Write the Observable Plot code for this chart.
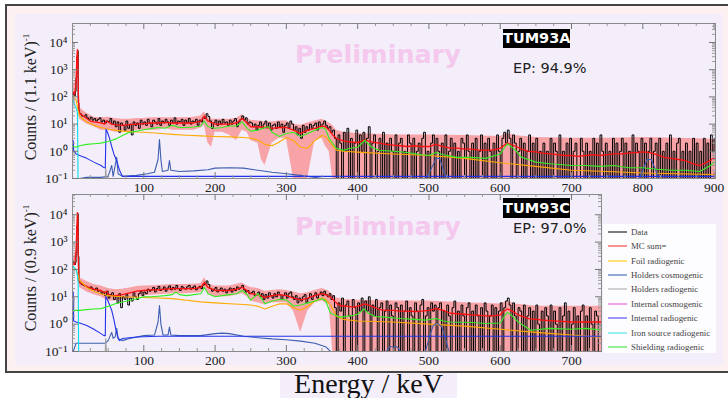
<!DOCTYPE html>
<html><head><meta charset="utf-8">
<script src="https://cdn.jsdelivr.net/npm/d3@7"></script>
<script src="https://cdn.jsdelivr.net/npm/@observablehq/plot@0.6"></script>
<style>
body{margin:0;width:728px;height:398px;position:relative;overflow:hidden;background:#fff;}
.abs{position:absolute;}
.ytitle{position:absolute;transform:translate(-50%,-50%) rotate(-90deg);white-space:nowrap;font-family:'Liberation Serif',serif;font-size:16px;color:#222;line-height:1;}
.ytitle sup{font-size:9px;vertical-align:7px;}
.prelim{position:absolute;width:300px;text-align:center;font-family:'DejaVu Sans',sans-serif;font-weight:bold;font-size:25.5px;line-height:1;color:#f5c8ee;}
.tag{position:absolute;background:#000;color:#fff;font-family:'DejaVu Sans',sans-serif;font-weight:bold;font-size:14.5px;text-align:center;}
.ep{position:absolute;font-family:'DejaVu Sans',sans-serif;font-size:14.5px;line-height:1;color:#222;white-space:nowrap;}
#legend{position:absolute;left:603px;top:224px;width:113px;height:129px;background:#fdfcfe;}
.lrow{position:absolute;left:0;height:14px;width:113px;}
.lrow span.sw{position:absolute;left:5px;top:6px;width:19px;height:2px;}
.lrow span.tx{position:absolute;left:28px;top:0;line-height:14px;font-family:'Liberation Serif',serif;font-size:8.8px;color:#444;white-space:nowrap;}
</style></head><body>
<div class="abs" style="left:5px;top:4px;width:800px;height:369px;border:2px solid #444;box-sizing:border-box;background:#fcf1f0;"></div>
<div class="abs" style="left:15px;top:14px;width:708px;height:351px;background:#f3eef9;"></div>
<div class="abs" style="left:280px;top:373px;width:177px;height:25px;background:#f3eef9;"></div>
<div id="top" class="abs" style="left:0;top:0;"></div>
<div id="bot" class="abs" style="left:0;top:190px;"></div>
<div class="prelim" style="left:228px;top:41.5px;">Preliminary</div>
<div class="prelim" style="left:228px;top:213.5px;">Preliminary</div>
<div class="tag" style="left:503px;top:29px;width:67px;height:19px;line-height:19px;">TUM93A</div>
<div class="tag" style="left:503px;top:198px;width:67px;height:20px;line-height:20px;">TUM93C</div>
<div class="ep" style="left:513px;top:61px;">EP: 94.9%</div>
<div class="ep" style="left:513px;top:220.5px;">EP: 97.0%</div>
<div class="ytitle" style="left:30px;top:97px;">Counts / (1.1 keV)<sup>-1</sup></div>
<div class="ytitle" style="left:30px;top:268px;">Counts / (0.9 keV)<sup>-1</sup></div>
<div id="legend"></div>
<div class="abs" style="left:280px;top:370px;width:177px;text-align:center;font-family:'Liberation Serif',serif;font-size:28px;line-height:1;color:#111;">Energy / keV</div>
<script>
// ---------- axes / labels ----------
const X_TICKS_A = [100,200,300,400,500,600,700,800,900];
const X_TICKS_C = [100,200,300,400,500,600,700];
const Y_TICKS = [0.1,1,10,100,1000,10000];
const Y_TICK_LABELS = ["10\u207B\u00B9","10\u2070","10\u00B9","10\u00B2","10\u00B3","10\u2074"];
const LEGEND_LABELS = ["Data","MC sum=","Foil radiogenic","Holders cosmogenic","Holders radiogenic","Internal cosmogenic","Internal radiogenic","Iron source radiogenic","Shielding radiogenic"];
const LEGEND_COLORS = ["#7a7a7a","#f59292","#ffe07a","#93a9d8","#d0d0d0","#f2a2f0","#9a9af5","#98f0f5","#95f095"];

// ---------- TUM93A (top) ----------
const dataA_low = [120,150,110,160,500,3000,5000,60,30];           // E = 1..9 keV
const dataA = [                                                    // E = 10..900 keV, 2.5 keV bins
 24,20,19,22,17,15,18,14,16,13,15,17,12,14,11,13,12,16,10,13,
 8,12,5,11,9,6,13,7,10,4,12,9,11,7,14,10,12,9,15,11,
 8,14,12,10,16,9,13,11,15,12,9,14,11,17,10,13,12,15,9,14,
 11,16,10,13,12,15,9,14,12,17,16,24,19,13,7,11,14,9,13,10,
 15,11,12,9,14,10,13,16,8,12,15,20,14,17,10,12,11,8,10,6,
 9,12,7,10,13,8,11,6,9,10,7,12,8,10,5,9,11,7,13,10,
 6,8,4,7,3,9,5,8,6,10,7,9,11,6,12,8,10,13,9,7,
 8,5,6,3,0,4,2,0,5,1,7,0,3,0,2,6,0,4,1,5,
 0,3,8,0,2,4,0,1,3,0,5,0,2,0,3,1,0,4,0,2,
 3,0,1,0,4,2,0,3,0,1,2,0,3,5,0,1,0,2,4,0,
 3,1,0,2,0,4,0,1,3,0,2,0,1,0,3,2,0,4,1,0,
 2,0,3,0,1,4,0,2,0,3,1,0,2,0,4,1,0,3,5,2,
 6,3,0,4,2,0,1,3,0,2,0,1,4,0,2,0,3,0,1,0,
 2,0,1,0,3,0,2,1,0,4,0,1,0,2,0,3,0,1,2,0,
 0,3,1,0,2,0,1,0,3,0,2,0,4,1,0,2,0,1,0,3,
 0,2,0,1,3,0,2,0,1,0,4,0,2,1,0,3,0,2,0,1,
 3,0,1,2,0,3,0,1,0,2,0,4,0,1,0,2,3,0,1,0,
 2,0,1,0,3,0,2,0,1,0,3,0,2,0,4,1,3];
const mcA = [[1,150],[3,120],[5,300],[6,2500],[7,5500],[7.5,3000],[8,200],[9,35],[10,25],[15,20],[20,16],[25,13],[30,12],[40,11],[45,10],[47,13],[50,12],[55,10],[60,9.5],[70,9],[80,9.5],[90,10],[100,10.5],[110,11],[120,11],[130,11.5],[140,11],[150,11],[160,11],[170,11],[180,13],[185,20],[190,13],[200,10],[210,10],[220,10],[230,11],[238,16],[245,11],[250,8],[260,8],[270,7.5],[280,7],[290,7.5],[300,7.5],[310,6],[320,4.5],[330,6],[340,7],[350,8.5],[355,8],[360,6],[365,4],[370,3],[380,2.4],[390,2.2],[400,2.1],[410,2.6],[420,2.2],[430,2.0],[440,1.8],[450,1.7],[460,1.6],[470,1.5],[480,1.6],[490,1.5],[500,1.5],[510,1.8],[520,1.5],[530,1.3],[540,1.3],[550,1.2],[560,1.2],[570,1.1],[580,1.1],[590,1.1],[600,1.3],[610,2.0],[620,1.6],[630,1.2],[640,1.0],[650,0.95],[660,0.85],[670,0.8],[680,0.75],[690,0.7],[700,0.7],[710,0.65],[720,0.7],[730,0.75],[740,0.7],[750,0.75],[760,0.8],[770,0.8],[780,0.85],[790,0.9],[800,0.95],[810,0.9],[820,0.75],[830,0.6],[840,0.55],[850,0.5],[860,0.45],[870,0.35],[880,0.3],[890,0.4],[900,0.55]];
const bandA = [[1,80,250],[5,200,500],[7,4000,7000],[8,150,300],[9,20,50],[10,15,40],[20,10,25],[30,8,18],[40,6,17],[50,6,18],[60,5,16],[70,5,15],[80,5,15],[90,6,16],[100,6,16],[110,6,17],[120,6,17],[130,7,17],[140,6,17],[150,6,17],[160,6,17],[170,6,18],[180,7,20],[185,9,28],[190,2,18],[195,1.4,15],[200,5,15],[210,5,15],[220,4,15],[230,2.5,16],[238,6,22],[245,5,16],[250,2.5,14],[260,2,13],[265,0.5,13],[270,0.3,12],[280,2,12],[290,3,13],[300,3,13],[310,0.05,10],[320,0.05,9],[330,0.05,11],[340,2.5,13],[350,3,15],[355,1.5,13],[360,1,11],[365,0.05,9],[370,0.05,6],[380,0.05,5],[400,0.05,4.5],[450,0.05,4],[500,0.05,4],[550,0.05,3.8],[600,0.05,3.5],[610,0.05,4.5],[620,0.05,3.8],[650,0.05,3.2],[700,0.05,3],[750,0.05,3],[800,0.05,3.2],[850,0.05,3],[902,0.05,2.8]];
const foilA = [[1,100],[5,80],[8,30],[10,20],[15,15],[20,12],[30,9],[40,7.5],[50,6.5],[60,6],[70,5.5],[80,5.3],[90,5.1],[100,5],[120,4.6],[140,4.2],[160,3.9],[180,3.7],[200,3.5],[220,3.4],[240,3.2],[250,3],[260,2.6],[270,1.8],[280,1.6],[290,2.2],[300,3.2],[310,2.5],[320,1.4],[330,1.3],[340,2.5],[350,3.8],[355,3.5],[362,2.0],[370,1.1],[380,1.0],[400,0.93],[450,0.8],[500,0.7],[550,0.55],[600,0.38],[650,0.28],[700,0.2],[750,0.18],[800,0.16],[850,0.15],[900,0.14]];
const hcosA = [[1,0.05],[10,0.1],[20,0.11],[40,0.11],[50,0.12],[55,0.3],[57,0.12],[62,0.6],[64,0.15],[70,0.12],[90,0.13],[105,0.15],[115,0.17],[120,0.5],[122,2.7],[124,0.5],[126,0.18],[134,0.2],[136,0.46],[138,0.2],[150,0.18],[170,0.19],[190,0.21],[200,0.24],[220,0.25],[240,0.24],[260,0.2],[280,0.17],[300,0.15],[320,0.13],[340,0.11],[350,0.09],[360,0.05],[495,0.05],[500,0.15],[510,0.55],[515,0.55],[522,0.15],[528,0.05],[795,0.05],[800,0.2],[806,0.5],[812,0.5],[818,0.2],[822,0.05]];
const hradA = [[44,0.05],[46,0.05],[46.5,0.25],[47.5,0.05]];
const iradA = [[1,2.5],[1.6,1.1],[5,0.8],[10,0.7],[20,0.55],[30,0.4],[40,0.3],[44,0.25],[46,0.25],[47,6.5],[49,5],[52,3],[55,1.5],[58,0.8],[62,0.45],[66,0.2],[70,0.12],[100,0.12],[300,0.12],[600,0.12],[900,0.12]];
const ironA = [[1,80],[2,60],[3,50],[4,45],[5,40],[6,35],[7,25],[7.8,0.05]];
const shieldA = [[1,1.5],[5,1.4],[10,1.6],[20,1.8],[30,1.9],[40,2.0],[50,2.3],[60,2.8],[70,3.8],[80,5],[90,5.5],[100,6.2],[110,6.8],[120,7.5],[130,7],[140,9],[150,7.5],[160,7.5],[170,7.8],[180,8.5],[185,13],[190,8],[200,7],[210,7.5],[220,8.5],[230,8.5],[238,12],[245,7],[250,5.5],[260,6],[270,7.5],[275,8],[280,5],[290,3.5],[300,4.5],[310,5],[320,3.5],[330,4.5],[340,6],[350,7.5],[355,6.5],[360,3],[370,1.3],[380,1.1],[390,1.3],[400,1.4],[410,2.5],[420,1.4],[430,1.1],[450,1.0],[470,0.9],[490,0.75],[500,0.7],[510,0.9],[520,0.75],[540,0.6],[560,0.6],[580,0.55],[600,0.8],[610,1.9],[620,1.2],[630,0.6],[650,0.4],[670,0.35],[700,0.3],[720,0.3],[740,0.28],[760,0.3],[780,0.25],[800,0.25],[820,0.22],[840,0.2],[860,0.2],[880,0.18],[895,0.3],[900,0.4]];

// ---------- TUM93C (bottom) ----------
const dataC_low = [200,170,150,180,400,4000,11000,300,40];         // E = 1..9 keV
const dataC = [                                                    // E = 10..737.5 keV, 2.5 keV bins
 32,28,26,24,22,20,23,19,18,21,16,17,13,15,11,16,9,12,14,8,
 11,6,13,4,10,8,12,5,9,7,14,10,8,13,16,11,15,13,19,16,
 18,22,15,20,24,17,19,23,16,21,25,18,22,19,26,20,17,24,21,19,
 23,26,19,22,25,18,21,24,20,27,30,38,28,20,16,19,22,15,18,21,
 16,19,14,18,21,15,20,17,23,19,22,26,18,15,17,13,14,16,11,12,
 15,10,13,8,12,9,14,11,9,13,10,15,12,8,11,14,9,13,15,10,
 8,11,6,9,7,10,12,6,9,13,8,11,14,9,12,15,11,16,12,10,
 13,8,11,4,0,6,3,9,0,5,7,2,0,8,4,0,6,3,9,0,
 7,3,10,0,5,2,8,0,4,6,0,3,7,0,5,2,0,6,4,0,
 5,0,3,7,0,4,2,0,6,3,0,5,8,0,2,4,0,6,3,5,
 0,4,6,0,3,0,5,2,0,4,7,0,3,0,5,2,0,4,6,0,
 3,0,5,2,0,4,0,6,3,0,2,5,0,4,0,3,6,0,4,7,
 9,5,0,6,2,0,4,3,0,5,0,2,4,0,3,0,5,1,0,3,
 0,4,2,0,5,0,3,1,0,4,0,2,6,0,3,0,1,4,0,2,
 0,3,5,0,2,0,4,1,0,3,2,0];
const mcC = [[1,160],[3,150],[5,400],[6,3000],[7,12000],[7.5,8000],[8,300],[9,40],[10,34],[15,28],[20,24],[25,21],[30,19],[40,17],[45,14],[48,16],[50,12],[55,11],[60,11],[70,12],[80,14],[90,16],[100,17],[110,18],[120,18],[130,19],[140,20],[150,20],[160,20],[170,20],[180,22],[185,34],[190,22],[200,17],[210,17],[220,17],[230,19],[238,22],[245,17],[250,13],[260,12],[270,9.6],[280,11],[290,12],[300,11],[310,9],[320,7.7],[330,9],[340,11],[350,13],[355,12],[362,9.6],[370,6],[375,4.8],[385,4.5],[395,4.2],[405,5],[410,5.5],[420,4.5],[430,3.5],[440,3.2],[450,3.2],[460,3],[470,3],[480,2.9],[490,3],[500,3.2],[510,3.7],[520,3.2],[530,2.5],[540,2.4],[550,2.3],[560,2.2],[570,2.1],[580,2.0],[590,2.0],[600,2.2],[605,3],[610,3.6],[615,3.2],[625,2.2],[640,1.6],[660,1.4],[680,1.3],[700,1.2],[720,1.2],[742,1.2]];
const bandC = [[1,100,250],[5,250,600],[7,8000,16000],[8,200,400],[9,25,60],[10,22,50],[20,15,36],[30,12,28],[40,10,25],[50,7,20],[60,7,18],[70,8,19],[80,9,21],[90,10,24],[100,11,25],[120,12,26],[140,13,28],[160,13,28],[180,14,30],[185,20,50],[190,13,30],[200,10,25],[220,10,25],[238,13,32],[245,10,25],[250,7,22],[260,6,20],[270,5,16],[280,6,17],[290,6,18],[300,6,17],[310,3,15],[320,0.5,13],[330,3,14],[340,6,17],[350,7,20],[360,5,16],[365,0.05,12],[370,0.05,9],[380,0.05,8],[400,0.05,7.5],[450,0.05,7],[500,0.05,7],[550,0.05,6],[600,0.05,5.5],[610,0.05,7],[620,0.05,5.5],[650,0.05,4.5],[700,0.05,4.5],[742,0.05,4.5]];
const foilC = [[1,120],[5,100],[8,60],[10,40],[20,22],[30,16],[40,13],[50,11],[60,10.5],[70,10],[80,9.8],[90,9.6],[100,9.4],[120,9],[140,8.6],[160,7.5],[180,6.5],[200,6],[220,5.6],[240,5.2],[250,5],[260,4.5],[270,3.6],[280,4.5],[290,5.5],[300,5.6],[310,4],[320,3.2],[330,4.5],[340,7],[350,9],[355,8],[362,5],[370,2],[380,1.5],[400,1.3],[450,1.2],[500,1.0],[550,0.85],[600,0.65],[650,0.5],[700,0.4],[742,0.33]];
const hcosC = [[1,0.05],[5,0.2],[20,0.2],[40,0.2],[46,0.2],[50,0.25],[55,0.5],[57,0.3],[60,0.35],[62,0.7],[64,0.3],[70,0.25],[80,0.3],[100,0.38],[115,0.4],[120,1.2],[122,4.8],[124,1],[127,0.4],[134,0.4],[136,0.78],[138,0.4],[150,0.38],[180,0.38],[200,0.45],[210,0.47],[220,0.45],[240,0.36],[260,0.32],[280,0.29],[300,0.27],[320,0.24],[340,0.2],[355,0.15],[362,0.1],[366,0.05],[440,0.05],[445,0.15],[455,0.15],[460,0.05],[495,0.05],[500,0.3],[506,0.9],[512,1.05],[518,0.8],[524,0.25],[528,0.05]];
const hradC = [[44,0.05],[46,0.05],[46.5,0.3],[47.5,0.05]];
const iradC = [[1,15],[1.6,1.3],[5,1.2],[10,1.1],[20,0.9],[30,0.65],[40,0.45],[44,0.38],[46,0.38],[46.6,10],[49,8],[52,5],[55,3.2],[58,1.5],[61,0.6],[64,0.3],[66,0.25],[70,0.3],[90,0.34],[120,0.36],[400,0.36],[742,0.36]];
const ironC = [[1,130],[3,110],[5,100],[7,60],[8,30],[8.6,0.05]];
const shieldC = [[1,3.2],[10,3.2],[20,3.4],[30,3.6],[40,3.7],[50,4.5],[60,5.6],[70,6.5],[80,7.3],[90,8.5],[100,10],[110,10],[120,10.5],[130,11],[140,12],[145,15],[150,12],[160,11],[170,12],[180,13],[185,22],[190,13],[200,10],[210,11],[220,12],[230,13],[238,17],[245,12],[250,7.5],[260,13],[270,5.6],[280,7],[290,8],[300,7.7],[310,4.6],[320,5],[330,6],[340,7],[350,8.5],[355,7],[362,2.5],[375,1.8],[390,2],[400,2.3],[409,3.6],[415,2.5],[425,1.9],[437,1.8],[460,1.6],[480,1.5],[495,1.4],[510,1.6],[520,1.3],[530,1.2],[560,1.15],[580,1.05],[600,1.1],[605,1.8],[610,2.7],[615,2.2],[625,1.2],[643,0.6],[670,0.7],[700,0.65],[720,0.7],[742,0.6]];

// ---------- helpers ----------
const BIN_START = 10, BIN_WIDTH = 2.5;
function steps(low, vals, end){
  const pts = low.map((v,i)=>[1+i, v]);
  vals.forEach((v,i)=>pts.push([BIN_START + BIN_WIDTH*i, v]));
  pts.push([end, vals[vals.length-1]]);
  return pts;
}
const FLOOR = 0.05;
function panel(c){
  const pw = c.w - c.ml - c.mr, ph = c.h - c.mt - c.mb;
  const minorY = [];
  for (const d of Y_TICKS) for (const k of [2,3,4,5,6,7,8,9]) if (d*k < c.ymax) minorY.push(d*k);
  const minorX = [];
  for (let e = 25; e < c.xmax; e += 25) if (e % 100) minorX.push(e);
  const ln = (arr, color, sw=1.1) => Plot.line(arr, {x:d=>d[0], y:d=>Math.max(d[1],FLOOR), stroke:color, strokeWidth:sw, clip:true});
  return Plot.plot({
    width:c.w, height:c.h, marginTop:c.mt, marginRight:c.mr, marginBottom:c.mb, marginLeft:c.ml,
    style:{background:"transparent", fontFamily:"'Liberation Serif',serif", fontSize:"13.5px", color:"#222", overflow:"visible"},
    x:{type:"linear", domain:[0, c.xmax]},
    y:{type:"log", domain:[0.1, c.ymax], clamp:true},
    marks:[
      Plot.areaY(c.band, {x:d=>d[0], y1:d=>Math.max(d[1],FLOOR), y2:d=>d[2], fill:"#f7a3a8", clip:true}),
      Plot.line(c.data, {x:d=>d[0], y:d=>Math.max(d[1],FLOOR), curve:"step-after", stroke:"#000", strokeWidth:1, clip:true}),
      ln(c.mc, "#ff1010", 1.3),
      ln(c.foil, "#ffaa00"),
      ln(c.hcos, "#3d5fb0"),
      ln(c.hrad, "#a0a0a0"),
      ln(c.irad, "#2233ee"),
      ln(c.iron, "#00e0e8"),
      ln(c.shield, "#33ee22"),
      Plot.frame({stroke:"#8a8a8a"}),
      Plot.tickX(c.xticks, {x:d=>d, stroke:"#777", insetBottom:ph-6}),
      Plot.tickX(c.xticks, {x:d=>d, stroke:"#777", insetTop:ph-6}),
      Plot.tickX(minorX, {x:d=>d, stroke:"#999", insetBottom:ph-3}),
      Plot.tickX(minorX, {x:d=>d, stroke:"#999", insetTop:ph-3}),
      Plot.tickY(Y_TICKS, {y:d=>d, stroke:"#777", insetRight:pw-6}),
      Plot.tickY(Y_TICKS, {y:d=>d, stroke:"#777", insetLeft:pw-6}),
      Plot.tickY(minorY, {y:d=>d, stroke:"#999", insetRight:pw-3}),
      Plot.tickY(minorY, {y:d=>d, stroke:"#999", insetLeft:pw-3}),
      Plot.axisX(c.xticks, {anchor:"bottom", tickSize:0, tickPadding:4, label:null, tickFormat:d=>String(d)}),
      Plot.axisY(Y_TICKS, {anchor:"left", tickSize:0, tickPadding:5, label:null, tickFormat:d=>Y_TICK_LABELS[Y_TICKS.indexOf(d)]})
    ]
  });
}

document.getElementById("top").append(panel({
  w:728, h:200, mt:23, mb:22, ml:72, mr:13, xmax:902, ymax:5e4, xticks:X_TICKS_A,
  band:bandA, data:steps(dataA_low, dataA, 902), mc:mcA, foil:foilA, hcos:hcosA, hrad:hradA, irad:iradA, iron:ironA, shield:shieldA
}));
document.getElementById("bot").append(panel({
  w:728, h:182, mt:4, mb:21, ml:72, mr:127, xmax:742, ymax:5.5e4, xticks:X_TICKS_C,
  band:bandC, data:steps(dataC_low, dataC, 742), mc:mcC, foil:foilC, hcos:hcosC, hrad:hradC, irad:iradC, iron:ironC, shield:shieldC
}));

// legend
const leg = document.getElementById("legend");
LEGEND_LABELS.forEach((lab, i) => {
  const row = document.createElement("div");
  row.className = "lrow";
  row.style.top = (0.7 + 14.4*i) + "px";
  row.innerHTML = `<span class="sw" style="background:${LEGEND_COLORS[i]}"></span><span class="tx">${lab}</span>`;
  leg.append(row);
});
</script>
</body></html>
